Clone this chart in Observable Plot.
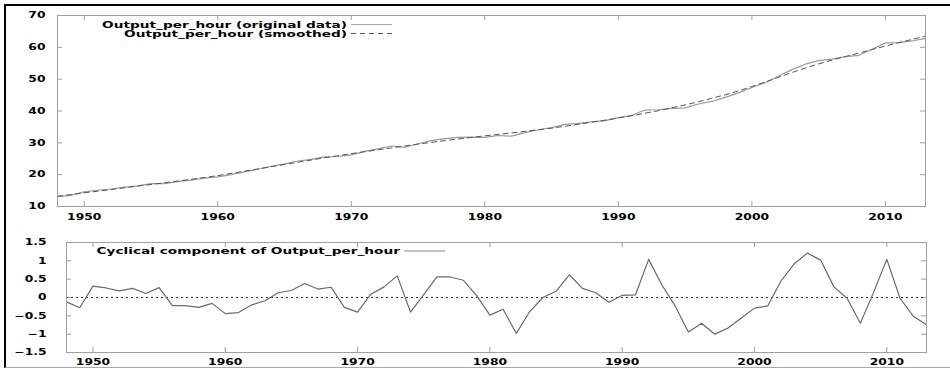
<!DOCTYPE html>
<html><head><meta charset="utf-8">
<script src="https://cdn.jsdelivr.net/npm/d3@7"></script>
<script src="https://cdn.jsdelivr.net/npm/@observablehq/plot@0.6"></script>
<style>
body{margin:0;background:#fff;}
#wrap{position:relative;width:950px;height:377px;overflow:hidden;background:#fff;}
#frame{position:absolute;left:4px;top:4px;width:980px;height:361px;border-top:2px solid #000;border-left:2px solid #000;border-bottom:1px solid #aaa;}
.panel{position:absolute;left:0;}
</style></head><body>
<div id="wrap"><div id="frame"></div><div id="topPanel" class="panel" style="top:0"></div><div id="botPanel" class="panel" style="top:228px"></div></div>
<script>
const years = [1948,1949,1950,1951,1952,1953,1954,1955,1956,1957,1958,1959,1960,1961,1962,1963,1964,1965,1966,1967,1968,1969,1970,1971,1972,1973,1974,1975,1976,1977,1978,1979,1980,1981,1982,1983,1984,1985,1986,1987,1988,1989,1990,1991,1992,1993,1994,1995,1996,1997,1998,1999,2000,2001,2002,2003,2004,2005,2006,2007,2008,2009,2010,2011,2012,2013];
const original = [13.1,13.5,14.6,15.1,15.5,16.1,16.5,17.2,17.2,17.8,18.3,18.9,19.3,20.0,20.9,21.7,22.6,23.4,24.3,24.8,25.6,25.7,26.2,27.3,28.1,29.0,28.6,29.7,30.7,31.3,31.7,31.8,31.7,32.3,32.1,33.2,34.1,34.8,35.8,36.1,36.6,37.0,37.9,38.6,40.3,40.4,40.8,41.0,42.2,43.0,44.3,45.7,47.4,48.9,51.0,53.0,54.7,55.8,56.3,57.1,57.5,59.4,61.4,61.5,62.0,62.8];
const smoothed = [13.2,13.75,14.3,14.8,15.3,15.85,16.4,16.9,17.45,18.0,18.55,19.1,19.7,20.4,21.1,21.8,22.5,23.2,23.9,24.6,25.3,25.95,26.6,27.2,27.8,28.4,29.0,29.6,30.15,30.7,31.2,31.7,32.2,32.65,33.1,33.6,34.1,34.6,35.2,35.8,36.5,37.1,37.8,38.5,39.3,40.1,41.0,41.9,42.9,44.0,45.1,46.3,47.7,49.1,50.6,52.1,53.5,54.8,56.0,57.1,58.2,59.3,60.4,61.5,62.5,63.5];
const cyclical = [-0.12,-0.28,0.31,0.26,0.18,0.25,0.11,0.27,-0.22,-0.22,-0.27,-0.16,-0.44,-0.41,-0.20,-0.09,0.13,0.19,0.38,0.23,0.28,-0.27,-0.40,0.09,0.29,0.59,-0.40,0.08,0.56,0.56,0.47,0.05,-0.48,-0.32,-0.98,-0.39,0.00,0.17,0.62,0.25,0.13,-0.13,0.06,0.07,1.04,0.34,-0.23,-0.94,-0.70,-1.00,-0.83,-0.56,-0.29,-0.23,0.45,0.92,1.21,1.02,0.29,-0.02,-0.70,0.14,1.04,-0.02,-0.51,-0.74];
const xTicks = [1950,1960,1970,1980,1990,2000,2010];
const topYTicks = [10,20,30,40,50,60,70];
const botYTicks = [-1.5,-1,-0.5,0,0.5,1,1.5];
const labelOriginal = "Output_per_hour (original data)";
const labelSmoothed = "Output_per_hour (smoothed)";
const labelCycle = "Cyclical component of Output_per_hour";

const FRAME = "#a0a0a0";
const STRETCH = 1.45;
const style = {fontFamily: "'DejaVu Sans', sans-serif", fontSize: "8.5px", fontWeight: "bold", color: "#000", background: "transparent", overflow: "visible"};
const numFmt = d => (d < 0 ? "\u2212" : "") + String(Math.abs(d));

// widen glyphs horizontally (called once the svg is in the DOM)
function stretchText(nodes, s) {
  nodes.forEach(t => {
    const w = t.getComputedTextLength();
    if (w > 0) {
      t.setAttribute("textLength", (w * s).toFixed(2));
      t.setAttribute("lengthAdjust", "spacingAndGlyphs");
    }
  });
}
function stretch(svg, s) {
  stretchText(svg.querySelectorAll('g[aria-label$="tick label"] text'), s);
  stretchText(svg.querySelectorAll('g.legend text'), 1.52);
}
function inwardTicks(xt, yt, pw, ph, len) {
  return [
    Plot.tickY(yt, {y: d => d, stroke: FRAME, insetRight: pw - len}),
    Plot.tickY(yt, {y: d => d, stroke: FRAME, insetLeft: pw - len}),
    Plot.tickX(xt, {x: d => d, stroke: FRAME, insetTop: ph - len}),
    Plot.tickX(xt, {x: d => d, stroke: FRAME, insetBottom: ph - len})
  ];
}
function legend(svg, items) {
  const g = d3.select(svg).append("g").attr("class", "legend").attr("font-family", "'DejaVu Sans', sans-serif").attr("font-weight", "bold").attr("font-size", "9px");
  items.forEach(it => {
    g.append("text").attr("text-anchor", "end").attr("dy", "0.35em")
      .attr("x", it.x).attr("y", it.y).text(it.text);
    g.append("line").attr("x1", it.x + 4).attr("x2", it.x + 45).attr("y1", it.y).attr("y2", it.y)
      .attr("stroke", it.stroke).attr("stroke-width", 1).attr("stroke-dasharray", it.dash || null);
  });
}

// Top panel
const tW = 950, tH = 228, tML = 57, tMR = 25, tMT = 15, tMB = 22;
const tPW = tW - tML - tMR, tPH = tH - tMT - tMB;
const topChart = Plot.plot({
  width: tW, height: tH, marginLeft: tML, marginRight: tMR, marginTop: tMT, marginBottom: tMB,
  style,
  x: {domain: [1948, 2013], ticks: xTicks, tickFormat: d => String(d), tickSize: 0, tickPadding: 7, label: null},
  y: {domain: [10, 70], ticks: topYTicks, tickFormat: numFmt, tickSize: 0, tickPadding: 12, label: null},
  marks: [
    ...inwardTicks(xTicks, topYTicks, tPW, tPH, 5),
    Plot.line(years, {x: d => d, y: (d, i) => original[i], stroke: "#9a9a9a", strokeWidth: 1.2}),
    Plot.line(years, {x: d => d, y: (d, i) => smoothed[i], stroke: "#555", strokeWidth: 1, strokeDasharray: "5,4"}),
    Plot.frame({stroke: FRAME})
  ]
});
legend(topChart, [
  {x: 347, y: 24.5, text: labelOriginal, stroke: "#aaa"},
  {x: 347, y: 33.5, text: labelSmoothed, stroke: "#555", dash: "5,4"}
]);
document.getElementById("topPanel").appendChild(topChart);
stretch(topChart, STRETCH);

// Bottom panel
const bW = 950, bH = 147, bML = 66, bMR = 24, bMT = 14, bMB = 23;
const bPW = bW - bML - bMR, bPH = bH - bMT - bMB;
const botChart = Plot.plot({
  width: bW, height: bH, marginLeft: bML, marginRight: bMR, marginTop: bMT, marginBottom: bMB,
  style,
  x: {domain: [1948, 2013], ticks: xTicks, tickFormat: d => String(d), tickSize: 0, tickPadding: 6, label: null},
  y: {domain: [-1.5, 1.5], ticks: botYTicks, tickFormat: numFmt, tickSize: 0, tickPadding: 20, label: null},
  marks: [
    ...inwardTicks(xTicks, botYTicks, bPW, bPH, 5),
    Plot.ruleY([0], {stroke: "#333", strokeDasharray: "2,3"}),
    Plot.line(years, {x: d => d, y: (d, i) => cyclical[i], stroke: "#6a6a6a", strokeWidth: 1.2}),
    Plot.frame({stroke: FRAME})
  ]
});
legend(botChart, [
  {x: 400, y: 23, text: labelCycle, stroke: "#888"}
]);
document.getElementById("botPanel").appendChild(botChart);
stretch(botChart, STRETCH);
</script>
</body></html>
